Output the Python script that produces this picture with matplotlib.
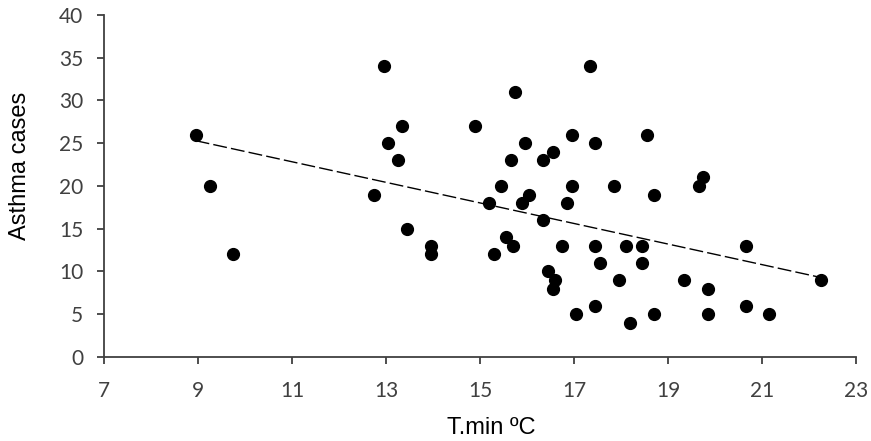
import matplotlib
matplotlib.use("Agg")
import matplotlib.pyplot as plt
import numpy as np

# minimum temperature (ºC) and asthma cases
tmin = [8.95, 9.25, 9.75, 12.75, 12.95, 13.05, 13.25, 13.35, 13.45, 13.95,
        13.95, 14.9, 15.2, 15.3, 15.45, 15.55, 15.7, 15.65, 15.75, 15.9,
        15.95, 16.05, 16.35, 16.35, 16.45, 16.55, 16.55, 16.6, 16.75, 16.85,
        16.95, 16.95, 17.05, 17.35, 17.45, 17.45, 17.45, 17.55, 17.85, 17.95,
        18.1, 18.2, 18.45, 18.45, 18.55, 18.7, 18.7, 19.35, 19.65, 19.75,
        19.85, 19.85, 20.65, 20.65, 21.15, 22.25]
cases = [26, 20, 12, 19, 34, 25, 23, 27, 15, 13,
         12, 27, 18, 12, 20, 14, 13, 23, 31, 18,
         25, 19, 23, 16, 10, 24, 8, 9, 13, 18,
         26, 20, 5, 34, 25, 13, 6, 11, 20, 9,
         13, 4, 13, 11, 26, 19, 5, 9, 20, 21,
         8, 5, 13, 6, 5, 9]

# linear trend line end points
trend_x = [8.95, 22.25]
trend_y = [25.3, 9.3]

xticks = [7, 9, 11, 13, 15, 17, 19, 21, 23]
yticks = [0, 5, 10, 15, 20, 25, 30, 35, 40]

fig = plt.figure(figsize=(8.71, 4.41), dpi=100)
ax = fig.add_axes([0.1194, 0.1905, 0.8634, 0.7755])

ax.plot(trend_x, trend_y, color='black', lw=1.0, ls=(0, (10, 3)), zorder=2)
ax.plot(tmin, cases, 'o', color='black', markersize=8.5, zorder=3)

ax.set_xlim(7, 23)
ax.set_ylim(0, 40)
ax.set_xticks(xticks)
ax.set_yticks(yticks)

for side in ('top', 'right'):
  ax.spines[side].set_visible(False)
for side in ('left', 'bottom'):
  ax.spines[side].set_color('#404040')
  ax.spines[side].set_linewidth(1.3)

ax.tick_params(axis='both', direction='out', length=5, width=1.3,
               color='#404040', labelcolor='#404040', labelsize=15)
ax.tick_params(axis='x', pad=12)
ax.tick_params(axis='y', pad=10)
for lbl in ax.get_xticklabels() + ax.get_yticklabels():
  lbl.set_family('Lato')

ax.set_xlabel('T.min ºC', fontsize=17, family='Liberation Sans')
ax.set_ylabel('Asthma cases', fontsize=17, family='Liberation Sans')
# labels sit a bit off-centre in the original
ax.xaxis.set_label_coords(0.515, -0.175)
ax.yaxis.set_label_coords(-0.097, 0.56)

fig.savefig('out.png', dpi=100)
